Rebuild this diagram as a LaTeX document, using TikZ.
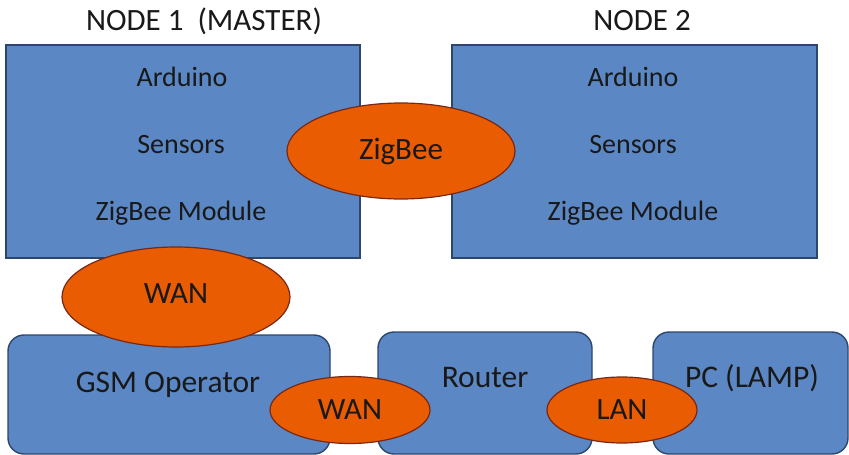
\documentclass[tikz,border=0pt]{standalone}
\usepackage{fontspec}
\setmainfont{Carlito}
\usetikzlibrary{shapes.geometric}
\definecolor{boxblue}{RGB}{91,136,197}
\definecolor{boxline}{RGB}{44,70,108}
\definecolor{linkorange}{RGB}{234,92,2}
\definecolor{linkline}{RGB}{120,40,20}
\tikzset{
	unitbox/.style={rectangle,draw=boxline,fill=boxblue,line width=1.4pt,inner sep=0pt},
	roundbox/.style={unitbox,rounded corners=16pt},
	link/.style={ellipse,draw=linkline,fill=linkorange,line width=1.2pt,inner sep=0pt,text=black!90,font=\fontsize{31}{34}\selectfont},
	label/.style={font=\fontsize{28}{31}\selectfont,text=black!90},
	biglabel/.style={font=\fontsize{31.5}{34}\selectfont,text=black!90},
	title/.style={font=\fontsize{31}{34}\selectfont,text=black!90}
}
\begin{document}
\begin{tikzpicture}[x=1pt,y=-1pt]
		\useasboundingbox (0,0) rectangle (849,455);
		\node[title] (t1) at (204,21) {NODE 1\ \ (MASTER)};
		\node[title] (t2) at (642,21) {NODE 2};
		\node[unitbox,minimum width=354pt,minimum height=213pt] (n1) at (183,151.5) {};
		\node[unitbox,minimum width=365pt,minimum height=213pt] (n2) at (634.5,151.5) {};
		\node[label] (a1) at (182,77) {Arduino};
		\node[label] (s1) at (181,145) {Sensors};
		\node[label] (z1) at (181,213) {ZigBee Module};
		\node[label] (a2) at (633,77) {Arduino};
		\node[label] (s2) at (633,145) {Sensors};
		\node[label] (z2) at (633,213) {ZigBee Module};
		\node[roundbox,minimum width=322pt,minimum height=119pt] (gsm) at (169,394.5) {};
		\node[roundbox,minimum width=214pt,minimum height=122pt] (router) at (485,393) {};
		\node[roundbox,minimum width=195pt,minimum height=122pt] (pc) at (750.5,393) {};
		\node[biglabel] (gsmtext) at (168,385) {GSM Operator};
		\node[biglabel] (routertext) at (485,378) {Router};
		\node[biglabel] (pctext) at (752,378) {PC (LAMP)};
		\node[link,minimum width=228pt,minimum height=96pt] (zigbee) at (401,151) {\raisebox{4pt}{ZigBee}};
		\node[link,minimum width=228pt,minimum height=100pt] (wan1) at (176,297) {\raisebox{6pt}{WAN}};
		\node[link,minimum width=160pt,minimum height=67pt] (wan2) at (350,410) {\raisebox{-3pt}{WAN}};
		\node[link,minimum width=150pt,minimum height=66pt] (lan) at (622,410) {\raisebox{-4pt}{LAN}};
	\end{tikzpicture}
\end{document}
